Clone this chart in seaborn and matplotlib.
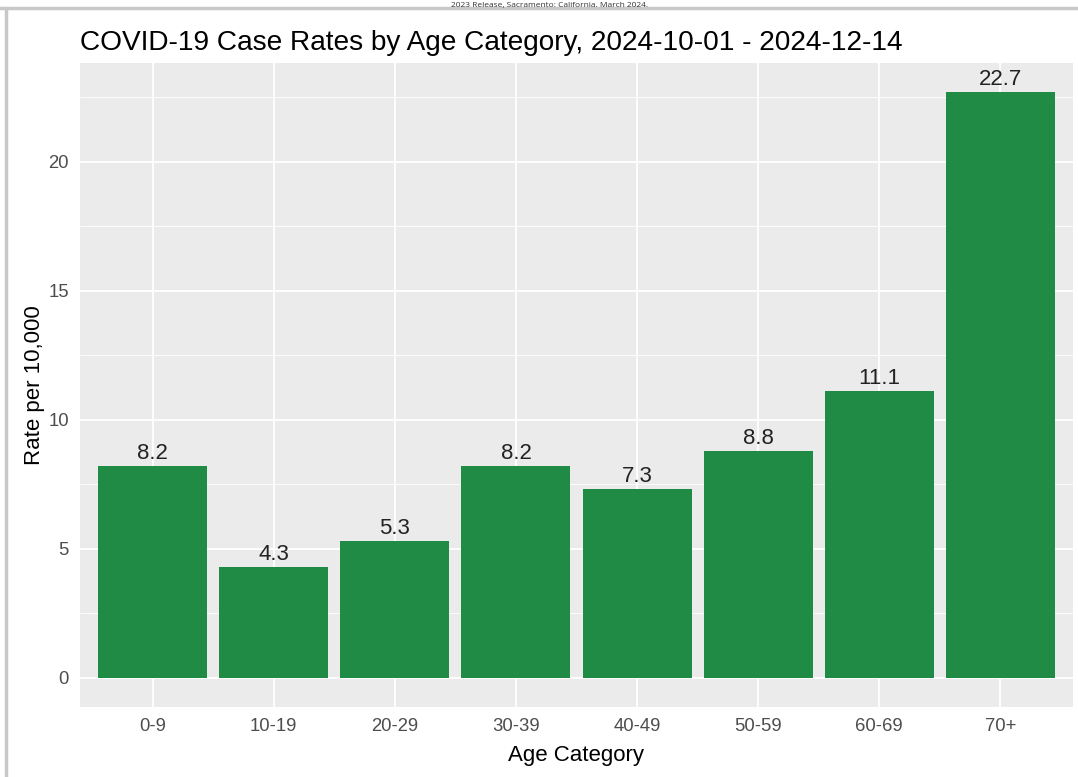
import matplotlib
matplotlib.use("Agg")
import matplotlib.pyplot as plt
import seaborn as sns
import pandas as pd
from matplotlib.lines import Line2D

categories = ["0-9", "10-19", "20-29", "30-39", "40-49", "50-59", "60-69", "70+"]
rates = [8.2, 4.3, 5.3, 8.2, 7.3, 8.8, 11.1, 22.7]
y_ticks = [0, 5, 10, 15, 20]
title = "COVID-19 Case Rates by Age Category, 2024-10-01 - 2024-12-14"
top_note = "2023 Release, Sacramento: California. March 2024."

sns.set_style("darkgrid")
plt.rcParams["font.family"] = ["Liberation Sans", "DejaVu Sans"]

df = pd.DataFrame({"age": categories, "rate": rates})

W, H = 1078, 777
fig = plt.figure(figsize=(W / 100, H / 100), dpi=100)
fig.patch.set_facecolor("white")
ax = fig.add_axes([80 / W, 1 - 707 / H, (1073 - 80) / W, (707 - 63) / H])
ax.set_facecolor("#EBEBEB")

sns.barplot(data=df, x="age", y="rate", color="#1F8B45", width=0.9,
            saturation=1, ax=ax, zorder=3, linewidth=0, edgecolor="none")

ymax = max(rates)
ax.set_ylim(-0.05 * ymax, ymax * 1.05)
ax.set_xlim(-0.6, len(categories) - 0.4)
ax.set_yticks(y_ticks)
ax.set_yticks([2.5, 7.5, 12.5, 17.5, 22.5], minor=True)
ax.grid(which="major", color="white", linewidth=1.3, zorder=0)
ax.grid(which="minor", axis="y", color="white", linewidth=0.6, zorder=0)
ax.set_axisbelow(True)
for s in ax.spines.values():
    s.set_visible(False)

ax.tick_params(axis="both", which="major", length=4, width=1, color="#333333",
               labelcolor="#4D4D4D", labelsize=13.3, pad=4)
ax.tick_params(axis="both", which="minor", length=0)

for p, v in zip(ax.patches, rates):
    ax.text(p.get_x() + p.get_width() / 2, v + 0.08, f"{v:.1f}",
            ha="center", va="bottom", fontsize=16, color="#222222")

ax.set_xlabel("Age Category", fontsize=16, color="black", labelpad=7)
ax.set_ylabel("Rate per 10,000", fontsize=16, color="black", labelpad=2)
fig.text(80 / W, 1 - 50 / H, title, fontsize=20.2, color="black",
         ha="left", va="baseline")

# screenshot frame
fig.text(0.51, 1 - 6.5 / H, top_note, fontsize=6, color="#333333",
         ha="center", va="baseline", family=["Open Sans", "DejaVu Sans"])
fig.add_artist(Line2D([0, 1], [1 - 8 / H, 1 - 8 / H], transform=fig.transFigure,
                      color="#C8C8C8", linewidth=2.5))
fig.add_artist(Line2D([6 / W, 6 / W], [0, 1 - 8 / H], transform=fig.transFigure,
                      color="#C8C8C8", linewidth=2.5))

fig.savefig("out.png", dpi=100)
